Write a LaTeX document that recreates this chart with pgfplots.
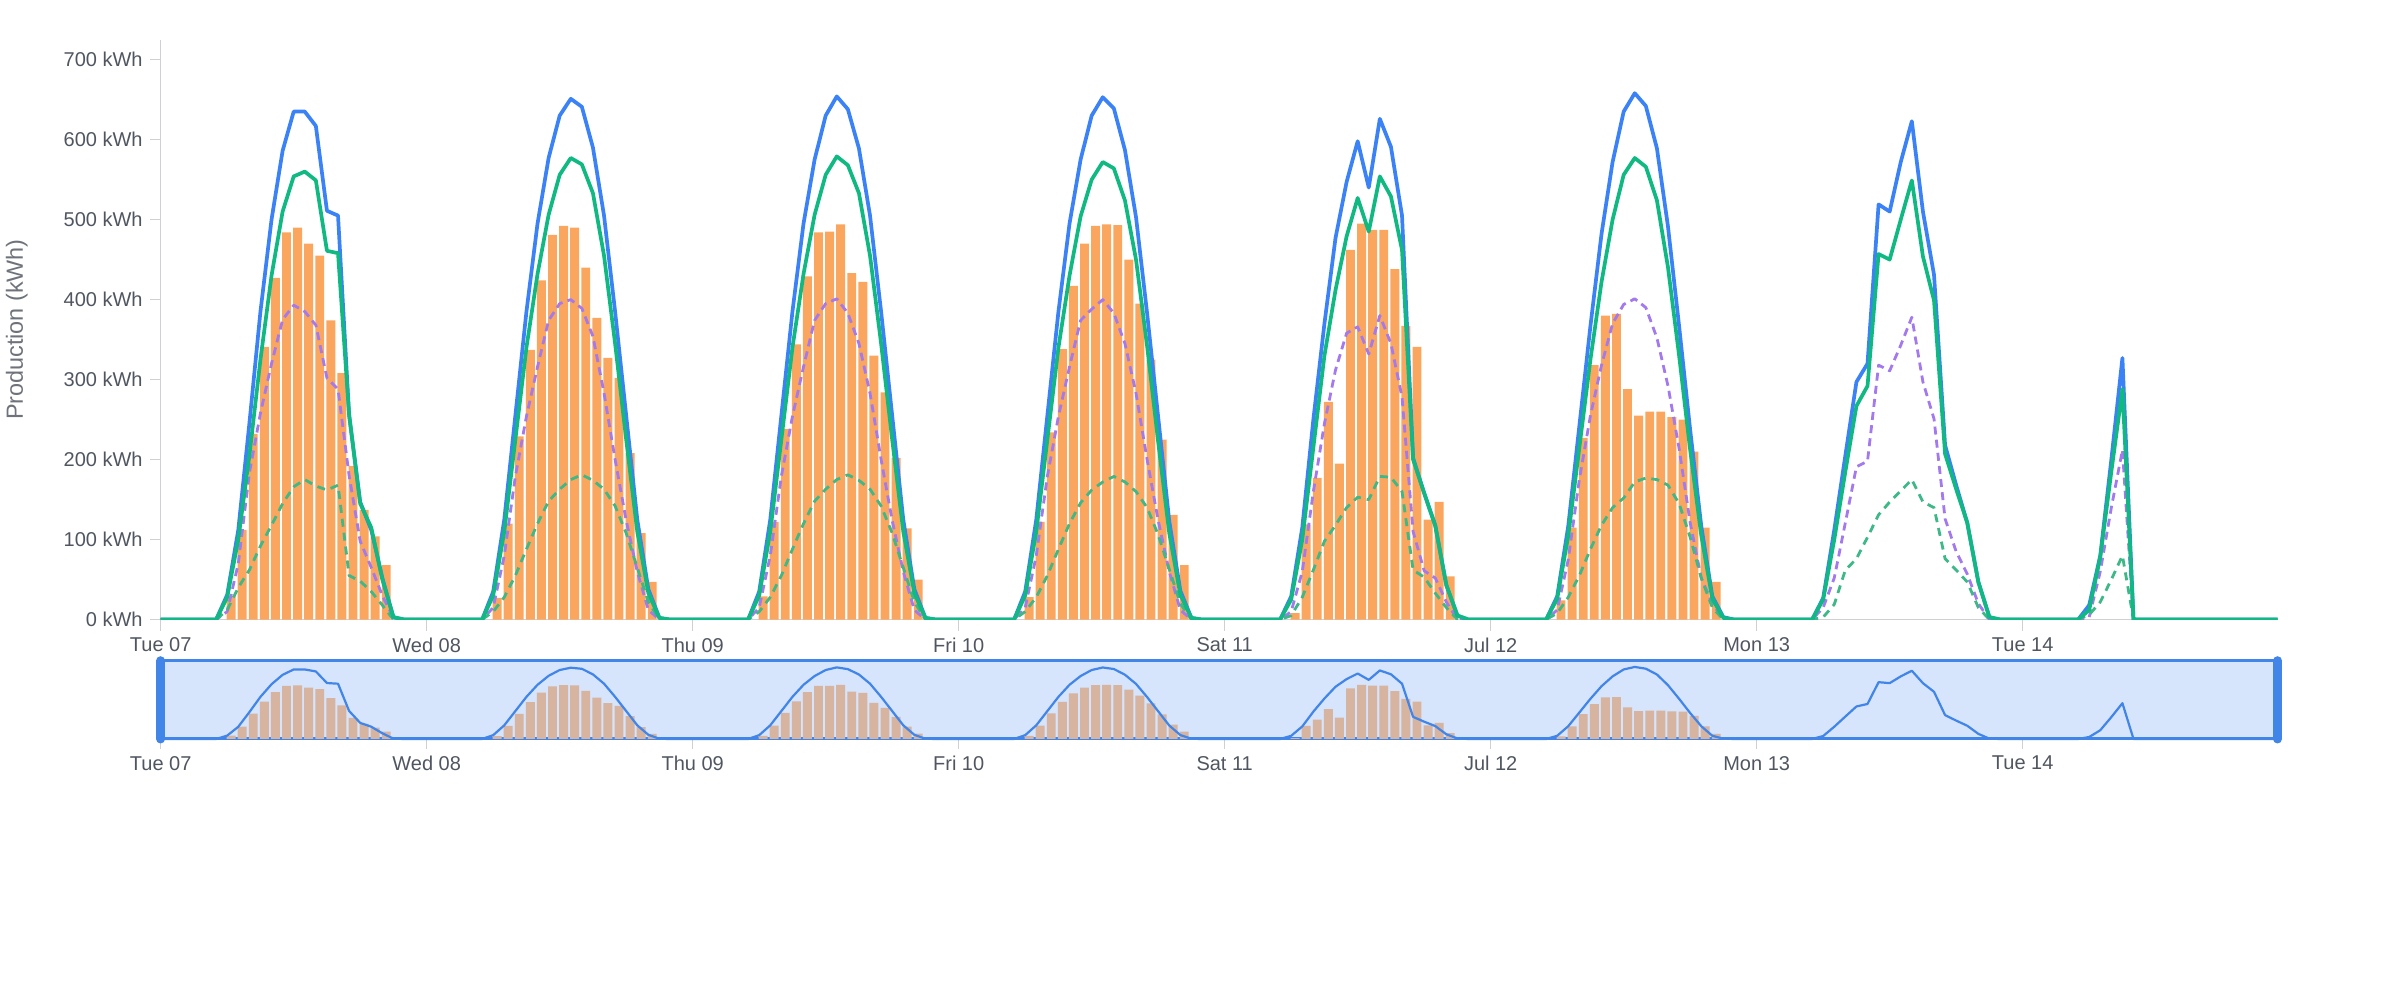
\documentclass[border=0pt]{standalone}
\usepackage{fontspec}
\setmainfont{Liberation Sans}
\usepackage{pgfplots}
\usepackage{pgfplotstable}
\pgfplotsset{compat=1.18}
\definecolor{cblue}{RGB}{59,130,246}
\definecolor{cgreen}{RGB}{16,185,129}
\definecolor{cpurple}{RGB}{163,121,238}
\definecolor{cgdash}{RGB}{61,184,135}
\definecolor{corange}{RGB}{250,166,94}
\definecolor{navfill}{RGB}{214,228,252}
\definecolor{navblue}{RGB}{66,133,232}
\definecolor{navbar}{RGB}{214,180,160}
\definecolor{axgray}{RGB}{208,208,212}
\definecolor{txgray}{RGB}{80,86,96}
\definecolor{lbgray}{RGB}{110,114,122}

\pgfplotstableread{
h blue green purple gdash
0 0 0 0 0
5 0 0 0 0
6 31 28 10 12
7 112 100 70 40
8 245 205 183 62
9 385 325 258 92
10 500 430 320 118
11 586 510 375 145
12 635 554 393 166
13 635 560 385 175
14 617 549 368 167
15 511 461 302 162
16 505 458 288 168
17 256 256 180 55
18 147 145 98 48
19 112 115 65 35
20 52 50 30 18
21 3 3 2 0
22 0 0 0 0
29 0 0 0 0
30 35 30 15 10
31 125 110 80 28
32 255 225 179 55
33 385 340 254 88
34 495 432 316 120
35 577 506 374 148
36 630 556 395 163
37 651 577 400 175
38 641 569 389 181
39 590 533 354 174
40 505 455 283 163
41 385 345 200 142
42 255 225 124 108
43 125 110 60 65
44 38 33 12 22
45 2 2 0 0
46 0 0 0 0
53 0 0 0 0
54 35 30 15 10
55 125 110 80 28
56 255 225 179 55
57 385 340 254 88
58 495 432 316 120
59 575 506 374 148
60 630 556 395 163
61 654 579 401 175
62 638 568 383 181
63 589 533 345 174
64 505 455 283 163
65 385 345 200 142
66 255 225 124 108
67 125 110 60 65
68 38 33 12 22
69 2 2 0 0
70 0 0 0 0
77 0 0 0 0
78 35 30 15 10
79 125 110 80 28
80 255 225 179 55
81 385 340 254 88
82 495 430 316 120
83 575 504 374 146
84 630 550 388 162
85 653 572 400 172
86 639 564 383 179
87 587 524 345 172
88 503 450 283 160
89 383 342 200 140
90 253 222 124 106
91 123 108 60 63
92 36 31 12 20
93 2 2 0 0
94 0 0 0 0
101 0 0 0 0
102 29 25 10 5
103 115 100 60 28
104 250 215 160 62
105 370 330 245 98
106 477 412 312 118
107 547 479 358 140
108 598 527 366 153
109 540 485 332 150
110 626 554 380 179
111 591 529 345 178
112 505 462 278 160
113 202 200 110 62
114 158 158 61 53
115 118 117 52 33
116 43 43 22 15
117 5 5 0 0
118 0 0 0 0
125 0 0 0 0
126 29 26 12 8
127 117 105 75 28
128 242 215 175 55
129 367 325 255 88
130 482 422 318 118
131 572 500 370 140
132 635 556 394 152
133 658 577 401 172
134 642 566 390 177
135 589 524 352 175
136 491 440 292 168
137 367 330 214 145
138 237 212 121 103
139 117 105 52 52
140 29 26 20 15
141 3 2 0 0
142 0 0 0 0
149 0 0 0 0
150 27 25 15 3
151 112 100 52 19
152 205 185 121 62
153 297 267 191 76
154 320 292 198 103
155 519 457 318 131
156 510 450 311 147
157 572 500 343 161
158 623 549 378 175
159 510 454 297 147
160 431 399 251 140
161 218 207 126 76
162 168 163 85 62
163 121 121 57 47
164 47 47 20 15
165 3 3 0 0
166 0 0 0 0
173 0 0 0 0
174 18 12 3 6
175 80 78 60 22
176 200 185 140 50
177 327 288 212 80
178 0 0 0 0
191 0 0 0 0
}\lines

\pgfplotstableread{
x v
6.35 30
7.35 112
8.35 232
9.35 341
10.35 427
11.35 484
12.35 490
13.35 470
14.35 455
15.35 374
16.35 308
17.35 192
18.35 137
19.35 104
20.35 68
30.35 27
31.35 120
32.35 229
33.35 337
34.35 424
35.35 481
36.35 492
37.35 490
38.35 440
39.35 377
40.35 327
41.35 302
42.35 208
43.35 108
44.35 47
54.35 29
55.35 122
56.35 238
57.35 344
58.35 429
59.35 484
60.35 485
61.35 494
62.35 433
63.35 422
64.35 330
65.35 284
66.35 202
67.35 114
68.35 50
78.35 28
79.35 122
80.35 234
81.35 338
82.35 417
83.35 470
84.35 492
85.35 494
86.35 493
87.35 450
88.35 395
89.35 325
90.35 225
91.35 131
92.35 68
102.35 8
103.35 119
104.35 177
105.35 272
106.35 195
107.35 462
108.35 495
109.35 487
110.35 487
111.35 438
112.35 367
113.35 341
114.35 125
115.35 147
116.35 54
126.35 24
127.35 115
128.35 227
129.35 318
130.35 380
131.35 382
132.35 288
133.35 255
134.35 260
135.35 260
136.35 253
137.35 250
138.35 210
139.35 115
140.35 47
}\bars

\begin{document}
\begin{tikzpicture}
\useasboundingbox (0pt,0pt) rectangle (1204pt,500pt);
\begin{axis}[
  at={(80.35pt,190.2pt)}, anchor=south west,
  scale only axis, width=1058.45pt, height=290pt,
  xmin=0, xmax=191, ymin=0, ymax=725,
  axis x line=bottom, axis y line=left,
  axis line style={draw=axgray, line width=0.75pt, -},
  xtick={0,24,...,168},
  xticklabels={Tue 07,Wed 08,Thu 09,Fri 10,Sat 11,Jul 12,Mon 13,Tue 14},
  ytick={0,100,...,700},
  yticklabels={0 kWh,100 kWh,200 kWh,300 kWh,400 kWh,500 kWh,600 kWh,700 kWh},
  tick align=outside, major tick length=5.5pt,
  tick style={draw=axgray, line width=0.75pt},
  tick label style={font=\fontsize{10}{12}\selectfont, text=txgray},
  every axis y label/.style={at={(axis description cs:-0.068,0.5)}, rotate=90, anchor=center},
  ylabel={Production (kWh)},
  ylabel style={font=\fontsize{11.7}{14}\selectfont, text=lbgray},
]
\addplot[ybar, bar width=0.8, bar shift=0pt, fill=corange, draw=none] table[x=x, y=v] {\bars};
\addplot[cpurple, line width=1.4pt, dash pattern=on 4pt off 2.6pt, line join=round] table[x=h, y=purple] {\lines};
\addplot[cgdash, line width=1.4pt, dash pattern=on 4pt off 3pt, line join=round] table[x=h, y=gdash] {\lines};
\addplot[cblue, line width=1.85pt, line join=round] table[x=h, y=blue] {\lines};
\addplot[cgreen, line width=1.85pt, line join=round] table[x=h, y=green] {\lines};
\end{axis}

\begin{axis}[
  at={(80.35pt,130.5pt)}, anchor=south west,
  scale only axis, width=1058.45pt, height=39.15pt,
  xmin=0, xmax=191, ymin=0, ymax=715,
  clip=false,
  axis background/.style={fill=navfill},
  axis line style={draw=navblue, line width=1.5pt},
  ytick=\empty,
  xtick={0,24,...,168},
  xticklabels={Tue 07,Wed 08,Thu 09,Fri 10,Sat 11,Jul 12,Mon 13,Tue 14},
  xtick pos=left,
  tick align=outside, major tick length=5pt,
  tick style={draw=axgray, line width=0.75pt},
  tick label style={font=\fontsize{10}{12}\selectfont, text=txgray},
]
\addplot[ybar, bar width=0.8, bar shift=0pt, fill=navbar, draw=none] table[x=x, y=v] {\bars};
\addplot[navblue, line width=1.1pt, line join=round] table[x=h, y=blue] {\lines};
\draw[navblue, line width=4.5pt, line cap=round] (rel axis cs:0,0) -- (rel axis cs:0,1);
\draw[navblue, line width=4.5pt, line cap=round] (rel axis cs:1,0) -- (rel axis cs:1,1);
\end{axis}
\end{tikzpicture}
\end{document}
